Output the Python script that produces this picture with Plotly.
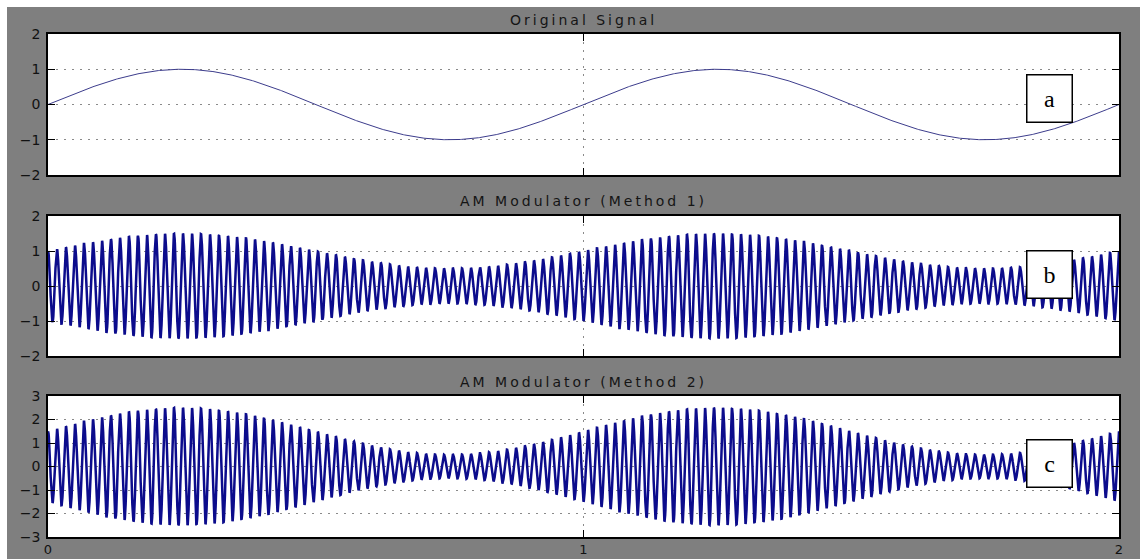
import numpy as np
import plotly.graph_objects as go

# ---- values ----
t_start, t_end = 0.0, 2.0          # time axis (s)
sample_rate = 2000.0               # samples per second of the plotted signal
message_freq = 1.0                 # Hz, message sine (one period per second)
message_amp = 1.0
carrier_freq = 59.5                # Hz, apparent carrier
method1_offset, method1_index = 1.0, 0.5   # envelope 0.5 .. 1.5
method2_offset, method2_index = 1.5, 1.0   # envelope 0.5 .. 2.5

titles = ["Original Signal", "AM Modulator (Method 1)", "AM Modulator (Method 2)"]
labels = ["a", "b", "c"]
y_ranges = [[-2, 2], [-2, 2], [-3, 3]]
y_ticks = [[-2, -1, 0, 1, 2], [-2, -1, 0, 1, 2], [-3, -2, -1, 0, 1, 2, 3]]
x_ticks = [0, 1, 2]

t = np.arange(t_start, t_end + 1e-9, 1.0 / sample_rate)
t_fine = np.linspace(t_start, t_end, 1001)
message = message_amp * np.sin(2 * np.pi * message_freq * t_fine)
carrier = np.cos(2 * np.pi * carrier_freq * t)
msg_s = message_amp * np.sin(2 * np.pi * message_freq * t)
am1 = (method1_offset + method1_index * msg_s) * carrier
am2 = (method2_offset + method2_index * msg_s) * carrier

W, H = 1140, 559
ml, mr, mt, mb = 48, 21, 34, 22
ph = H - mt - mb
def py(px):
    return (H - mb - px) / ph
def pxp(px):
    return (px - ml) / (W - ml - mr)

domains = [[py(175), py(34)], [py(356), py(216)], [py(537), py(396)]]

fig = go.Figure()
fig.add_trace(go.Scatter(x=t_fine, y=message, mode="lines",
                         line=dict(color="#3c3c8c", width=1), xaxis="x", yaxis="y"))
fig.add_trace(go.Scatter(x=t, y=am1, mode="lines",
                         line=dict(color="#0c0c8c", width=2.5), xaxis="x2", yaxis="y2"))
fig.add_trace(go.Scatter(x=t, y=am2, mode="lines",
                         line=dict(color="#0c0c8c", width=2.5), xaxis="x3", yaxis="y3"))

axis_common = dict(showline=True, linecolor="black", linewidth=1.5, mirror="ticks",
                   ticks="inside", ticklen=7, tickcolor="black", showgrid=True,
                   gridcolor="#8a8a8a", griddash="2px,6px", gridwidth=1.2, zeroline=False,
                   automargin=False,
                   tickfont=dict(family="DejaVu Sans", size=14, color="#111111"))

layout = dict(width=W, height=H, showlegend=False,
              paper_bgcolor="#7f7f7f", plot_bgcolor="white",
              margin=dict(l=ml, r=mr, t=mt, b=mb, autoexpand=False))
for i in range(3):
    s = "" if i == 0 else str(i + 1)
    layout["xaxis" + s] = dict(axis_common, domain=[0, 1], range=[0, 2],
                                tickvals=x_ticks, showticklabels=(i == 2),
                                ticklabelstandoff=0, anchor="y" + s,
                                tickfont=dict(family="DejaVu Sans", size=13, color="#111111"))
    layout["yaxis" + s] = dict(axis_common, domain=domains[i], range=y_ranges[i],
                                tickvals=y_ticks[i], ticklabelstandoff=3, anchor="x" + s)
fig.update_layout(**layout)

# white strips along the top and left edges of the picture
fig.add_shape(type="rect", xref="paper", yref="paper", x0=pxp(0), x1=pxp(W),
              y0=py(7), y1=py(0), fillcolor="white", line_width=0, layer="below")
fig.add_shape(type="rect", xref="paper", yref="paper", x0=pxp(0), x1=pxp(7),
              y0=py(H), y1=py(0), fillcolor="white", line_width=0, layer="below")

title_y = [20, 201, 382]
for i, ttl in enumerate(titles):
    fig.add_annotation(text='<span style="letter-spacing:3px">' + ttl + '</span>',
                       xref="paper", yref="paper", x=0.5, y=py(title_y[i]),
                       showarrow=False, xanchor="center", yanchor="middle",
                       font=dict(family="DejaVu Sans", size=14, color="#151515"))

box_y = [98.5, 274.5, 463.5]
for i, lab in enumerate(labels):
    fig.add_annotation(text=lab, xref="paper", yref="paper", x=pxp(1049.5), y=py(box_y[i]),
                       showarrow=False, xanchor="center", yanchor="middle",
                       width=44, height=46, bgcolor="white", bordercolor="black",
                       borderwidth=1.5, borderpad=0,
                       font=dict(family="Liberation Serif", size=24, color="black"))

fig.write_html("out.html", config={"displayModeBar": False},
               post_script="document.body.style.margin='0';document.body.style.overflow='hidden';")
